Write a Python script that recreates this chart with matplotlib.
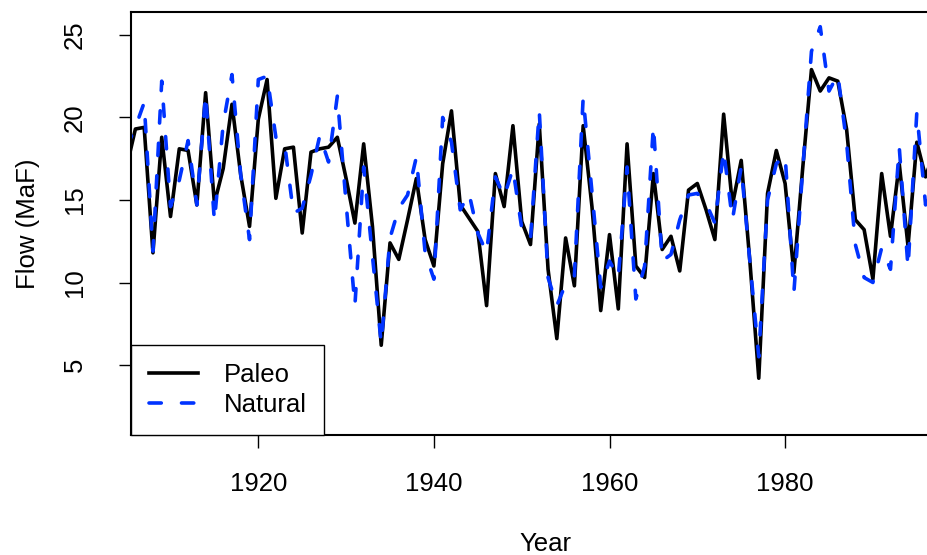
import matplotlib
matplotlib.use("Agg")
import matplotlib.pyplot as plt

years = list(range(1905, 1998))

paleo = [
    17.0, 19.3, 19.4, 11.8, 18.8, 14.0, 18.1, 18.0, 14.7, 21.5,
    14.8, 16.9, 20.8, 16.5, 13.4, 19.9, 22.3, 15.1, 18.1, 18.2,
    13.0, 17.9, 18.1, 18.2, 18.8, 16.3, 13.6, 18.4, 13.4, 6.2,
    12.4, 11.4, 13.8, 16.3, 12.6, 11.0, 17.2, 20.4, 14.7, 13.9,
    13.1, 8.6, 16.6, 14.6, 19.5, 13.7, 12.3, 19.6, 10.8, 6.6,
    12.7, 9.8, 19.5, 14.6, 8.3, 12.9, 8.4, 18.4, 11.0, 10.3,
    16.6, 12.0, 12.8, 10.7, 15.6, 16.0, 14.4, 12.6, 20.2, 14.7,
    17.4, 11.2, 4.2, 15.4, 18.0, 16.0, 10.6, 16.9, 22.9, 21.6,
    22.4, 22.2, 19.3, 13.8, 13.2, 10.2, 16.6, 12.8, 17.2, 12.2,
    18.5, 16.4, 18.0,
]

natural = [
    18.2, 19.4, 20.9, 11.9, 22.2, 14.6, 16.2, 18.6, 14.7, 21.4,
    13.7, 19.6, 22.6, 16.5, 12.6, 22.3, 22.5, 18.8, 18.4, 14.2,
    14.5, 16.5, 18.9, 17.3, 21.3, 14.8, 8.6, 17.0, 11.6, 6.3,
    12.7, 14.5, 15.3, 17.6, 11.8, 10.2, 20.0, 18.5, 14.4, 15.4,
    13.0, 11.8, 16.4, 15.2, 16.9, 13.3, 12.6, 20.4, 10.3, 8.6,
    9.9, 10.4, 21.2, 15.5, 9.7, 11.3, 10.3, 17.0, 9.0, 11.0,
    19.5, 11.3, 11.7, 13.8, 15.3, 15.4, 14.8, 13.6, 18.0, 13.8,
    17.0, 11.2, 5.5, 15.0, 17.2, 17.7, 9.4, 16.8, 24.0, 25.5,
    21.6, 22.6, 18.5, 12.3, 10.3, 10.0, 12.1, 10.8, 18.2, 10.9,
    20.3, 14.7, 18.0,
]

x_ticks = [1920, 1940, 1960, 1980]
y_ticks = [5, 10, 15, 20, 25]

plt.rcParams["font.family"] = ["Liberation Sans", "DejaVu Sans"]
FS = 18.5

W, H = 928, 555
fig = plt.figure(figsize=(W / 100, H / 100), dpi=100)
# the original is cropped on the right, so the axes run past the picture edge
x0, x1 = 1905.5, 2000.0
px_per_year = 8.78
ax_w = (x1 - x0) * px_per_year
ax = fig.add_axes([131 / W, (H - 435) / H, ax_w / W, 423 / H])

ax.plot(years, paleo, color="black", lw=2.6, solid_joinstyle="round", label="Paleo")
ax.plot(years, natural, color="#0033ff", lw=2.6, dashes=(3.4, 5.6),
        dash_capstyle="round", label="Natural")

ax.set_xlim(x0, x1)
ax.set_ylim(0.76, 26.39)
ax.set_xticks(x_ticks)
ax.set_yticks(y_ticks)
ax.tick_params(length=9, width=1.0, labelsize=FS, direction="out")
ax.tick_params(axis="x", pad=17.5)
ax.tick_params(axis="y", pad=23)
for lab in ax.get_yticklabels():
    lab.set_rotation(90)
    lab.set_va("center")

for sp in ax.spines.values():
    sp.set_linewidth(1.5)

ax.set_xlabel("Year", fontsize=FS, labelpad=26)
ax.set_ylabel("Flow (MaF)", fontsize=FS, labelpad=16)

leg = ax.legend(loc="lower left", fontsize=FS, frameon=True, fancybox=False,
                edgecolor="black", framealpha=1, borderaxespad=0,
                handlelength=1.9, handletextpad=1.0, labelspacing=0.25,
                borderpad=0.7)
leg.get_frame().set_linewidth(1.0)

fig.savefig("out.png", dpi=100)
